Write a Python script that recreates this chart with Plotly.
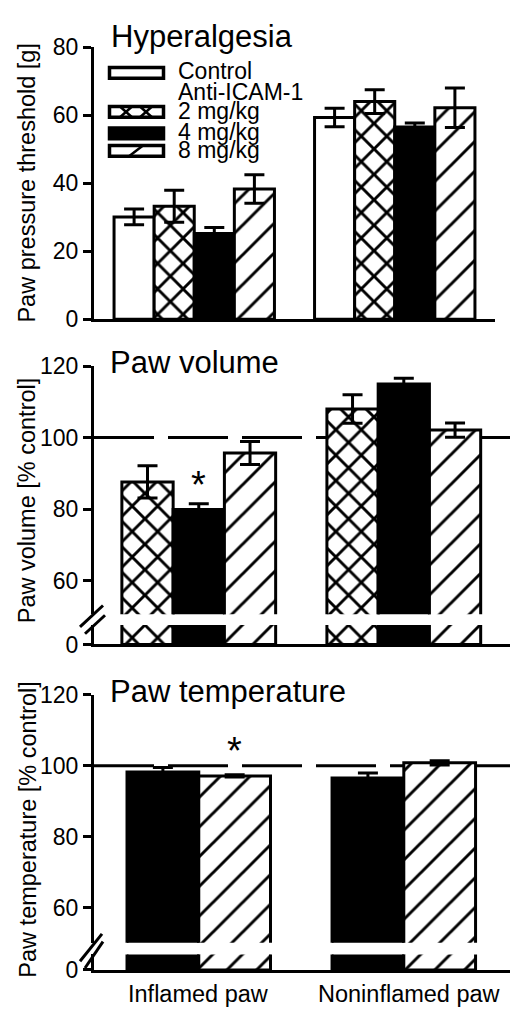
import plotly.graph_objects as go

# ---------------- data ----------------
groups = ["Inflamed paw", "Noninflamed paw"]
group_pos = [0, 1]
series_names = ["Control", "2 mg/kg", "4 mg/kg", "8 mg/kg"]

# Hyperalgesia: paw pressure threshold [g]
hyper_control = [30.1, 59.3]
hyper_control_err = [2.3, 2.7]
hyper_2mg = [33.2, 64.0]
hyper_2mg_err = [4.7, 3.5]
hyper_4mg = [25.2, 56.5]
hyper_4mg_err = [1.8, 1.2]
hyper_8mg = [38.3, 62.2]
hyper_8mg_err = [4.2, 5.8]

# Paw volume [% control]
vol_2mg = [87.6, 108.0]
vol_2mg_err = [4.5, 4.0]
vol_4mg = [79.9, 115.0]
vol_4mg_err = [1.6, 1.6]
vol_8mg = [95.7, 102.1]
vol_8mg_err = [3.2, 2.0]

# Paw temperature [% control]
temp_4mg = [98.2, 96.5]
temp_4mg_err = [1.3, 1.4]
temp_8mg = [97.1, 100.8]
temp_8mg_err = [0.3, 0.6]

control_level = 100
hyper_ticks = [0, 20, 40, 60, 80]
pct_ticks = [60, 80, 100, 120]

# ---------------- helpers ----------------
W, H = 510, 1020
def X(px):
    return px / W
def Y(py):
    return 1 - py / H

FONT = "Liberation Sans, Arial, Helvetica, sans-serif"

styles = {
    "Control": dict(color="white"),
    "2 mg/kg": dict(color="white", pattern=dict(shape="x", fgcolor="black", bgcolor="white",
                                                 size=18, solidity=0.3, fillmode="replace")),
    "4 mg/kg": dict(color="black"),
    "8 mg/kg": dict(color="white", pattern=dict(shape="/", fgcolor="black", bgcolor="white",
                                                 size=21, solidity=0.14, fillmode="replace")),
}

fig = go.Figure()

def add_bars(name, vals, errs, xa, ya, offset, width, with_err=True):
    m = dict(styles[name])
    m["line"] = dict(color="black", width=3)
    kw = {}
    if with_err:
        kw["error_y"] = dict(type="data", array=errs, visible=True, color="black",
                             thickness=3, width=10)
    fig.add_trace(go.Bar(x=group_pos, y=vals, name=name, marker=m, xaxis=xa, yaxis=ya,
                         offset=offset, width=width, showlegend=False, **kw))

# Panel 1 (4 bars per group)
p1 = [("Control", hyper_control, hyper_control_err), ("2 mg/kg", hyper_2mg, hyper_2mg_err),
      ("4 mg/kg", hyper_4mg, hyper_4mg_err), ("8 mg/kg", hyper_8mg, hyper_8mg_err)]
for k, (n, v, e) in enumerate(p1):
    add_bars(n, v, e, "x", "y", -0.4 + 0.2 * k, 0.2)

# Panel 2 (3 bars per group), upper and lower (broken axis)
p2 = [("2 mg/kg", vol_2mg, vol_2mg_err), ("4 mg/kg", vol_4mg, vol_4mg_err),
      ("8 mg/kg", vol_8mg, vol_8mg_err)]
for k, (n, v, e) in enumerate(p2):
    add_bars(n, v, e, "x2", "y2", -0.375 + 0.25 * k, 0.25)
    add_bars(n, v, e, "x2", "y3", -0.375 + 0.25 * k, 0.25, with_err=False)

# Panel 3 (2 bars per group)
p3 = [("4 mg/kg", temp_4mg, temp_4mg_err), ("8 mg/kg", temp_8mg, temp_8mg_err)]
for k, (n, v, e) in enumerate(p3):
    add_bars(n, v, e, "x3", "y4", -0.35 + 0.35 * k, 0.35)
    add_bars(n, v, e, "x3", "y5", -0.35 + 0.35 * k, 0.35, with_err=False)

axis_common = dict(showline=True, linecolor="black", linewidth=3, showgrid=False,
                   zeroline=False, tickfont=dict(family=FONT, size=23, color="black"))
xcommon = dict(axis_common, ticks="", showticklabels=False)
ycommon = dict(axis_common, ticks="outside", ticklen=8, tickwidth=3, tickcolor="black")

fig.update_layout(
    width=W, height=H, margin=dict(l=0, r=0, t=0, b=0),
    paper_bgcolor="white", plot_bgcolor="white", barmode="overlay",
    font=dict(family=FONT, color="black"),
    xaxis=dict(xcommon, domain=[X(94), X(495)], range=[-0.5, 1.5], anchor="y"),
    yaxis=dict(ycommon, domain=[Y(314.3), Y(35)], range=[0, 80], anchor="x",
               tickvals=hyper_ticks),
    xaxis2=dict(xcommon, domain=[X(94), 1], range=[-0.511, 1.518], anchor="y3"),
    yaxis2=dict(ycommon, domain=[Y(617), Y(362.3)], range=[50.6, 120], anchor="x2",
                tickvals=pct_ticks),
    yaxis3=dict(ycommon, domain=[Y(648), Y(628)], range=[0, 5.4], anchor="x2",
                tickvals=[0]),
    xaxis3=dict(xcommon, domain=[X(94), 1], range=[-0.511, 1.518], anchor="y5"),
    yaxis4=dict(ycommon, domain=[Y(954), Y(699.5)], range=[50.1, 120], anchor="x3",
                tickvals=pct_ticks),
    yaxis5=dict(ycommon, domain=[Y(982), Y(966)], range=[0, 4.4], anchor="x3",
                tickvals=[0]),
)

shapes = []
# dashed control level
for xa, ya in (("x2", "y2"), ("x3", "y4")):
    shapes.append(dict(type="line", xref=xa + " domain", yref=ya, x0=0, x1=1,
                       y0=control_level, y1=control_level, layer="below",
                       line=dict(color="black", width=3, dash="60px,14px")))
# axis break marks
for (a, b) in [((80, 630), (103, 608)), ((85, 637), (105, 618)),
               ((80, 973), (102, 945)), ((85, 980), (103, 953))]:
    shapes.append(dict(type="line", xref="paper", yref="paper", x0=X(a[0]), y0=Y(a[1]),
                       x1=X(b[0]), y1=Y(b[1]), line=dict(color="black", width=3)))
# legend swatches
sw = {"Control": (56, 67), "2 mg/kg": (96, 107), "4 mg/kg": (118, 129), "8 mg/kg": (136, 147)}
for n, (t, b) in sw.items():
    fill = "black" if n == "4 mg/kg" else "white"
    shapes.append(dict(type="rect", xref="paper", yref="paper", x0=X(109.5), x1=X(163.5),
                       y0=Y(b), y1=Y(t), fillcolor=fill, line=dict(color="black", width=3.5)))
t, b = sw["2 mg/kg"]
for cx in (126, 146):
    shapes.append(dict(type="line", xref="paper", yref="paper", x0=X(cx - 6), y0=Y(t),
                       x1=X(cx + 6), y1=Y(b), line=dict(color="black", width=2.5)))
    shapes.append(dict(type="line", xref="paper", yref="paper", x0=X(cx - 6), y0=Y(b),
                       x1=X(cx + 6), y1=Y(t), line=dict(color="black", width=2.5)))
t, b = sw["8 mg/kg"]
shapes.append(dict(type="line", xref="paper", yref="paper", x0=X(129), y0=Y(b),
                   x1=X(143), y1=Y(t), line=dict(color="black", width=2.5)))
fig.update_layout(shapes=shapes)

ann = []
def txt(text, x, y, size, xanchor="left", **kw):
    ann.append(dict(text=text, x=X(x), y=Y(y), xref="paper", yref="paper", showarrow=False,
                    xanchor=xanchor, yanchor="middle",
                    font=dict(family=FONT, size=size, color="black"), **kw))

# panel titles
txt("Hyperalgesia", 109, 24.5, 31)
txt("Paw volume", 108, 358.5, 31)
txt("Paw temperature", 108, 696.5, 31)
# y-axis titles
txt("Paw pressure threshold [g]", 27, 174, 23.5, xanchor="center", textangle=-90)
txt("Paw volume [% control]", 27, 500, 23.5, xanchor="center", textangle=-90)
txt("Paw temperature [% control]", 28, 838, 23.5, xanchor="center", textangle=-90)
# legend text
txt("Control", 176, 60, 23)
txt("Anti-ICAM-1", 176, 81, 23)
txt("2 mg/kg", 176, 101, 23)
txt("4 mg/kg", 176, 122, 23)
txt("8 mg/kg", 176, 141, 23)
# category labels
for gx, g, shift in zip(group_pos, groups, (0, 6)):
    ann.append(dict(text=g, x=gx, xref="x3", y=Y(1007), yref="paper", showarrow=False,
                    xanchor="center", yanchor="middle", xshift=shift,
                    font=dict(family=FONT, size=23.5, color="black")))
# significance asterisks
ann.append(dict(text="*", x=group_pos[0], xref="x2", y=vol_4mg[0] + vol_4mg_err[0] + 5.8,
                yref="y2", showarrow=False, yshift=-2,
                font=dict(family=FONT, size=38, color="black")))
ann.append(dict(text="*", x=group_pos[0] + 0.175, xref="x3",
                y=temp_8mg[0] + 8.5, yref="y4", showarrow=False, yshift=-5,
                font=dict(family=FONT, size=38, color="black")))
fig.update_layout(annotations=ann)

fig.write_html("out.html",
               config={"displayModeBar": False},
               post_script="document.body.style.margin='0';"
                           "document.body.style.padding='0';"
                           "document.body.style.overflow='hidden';")
